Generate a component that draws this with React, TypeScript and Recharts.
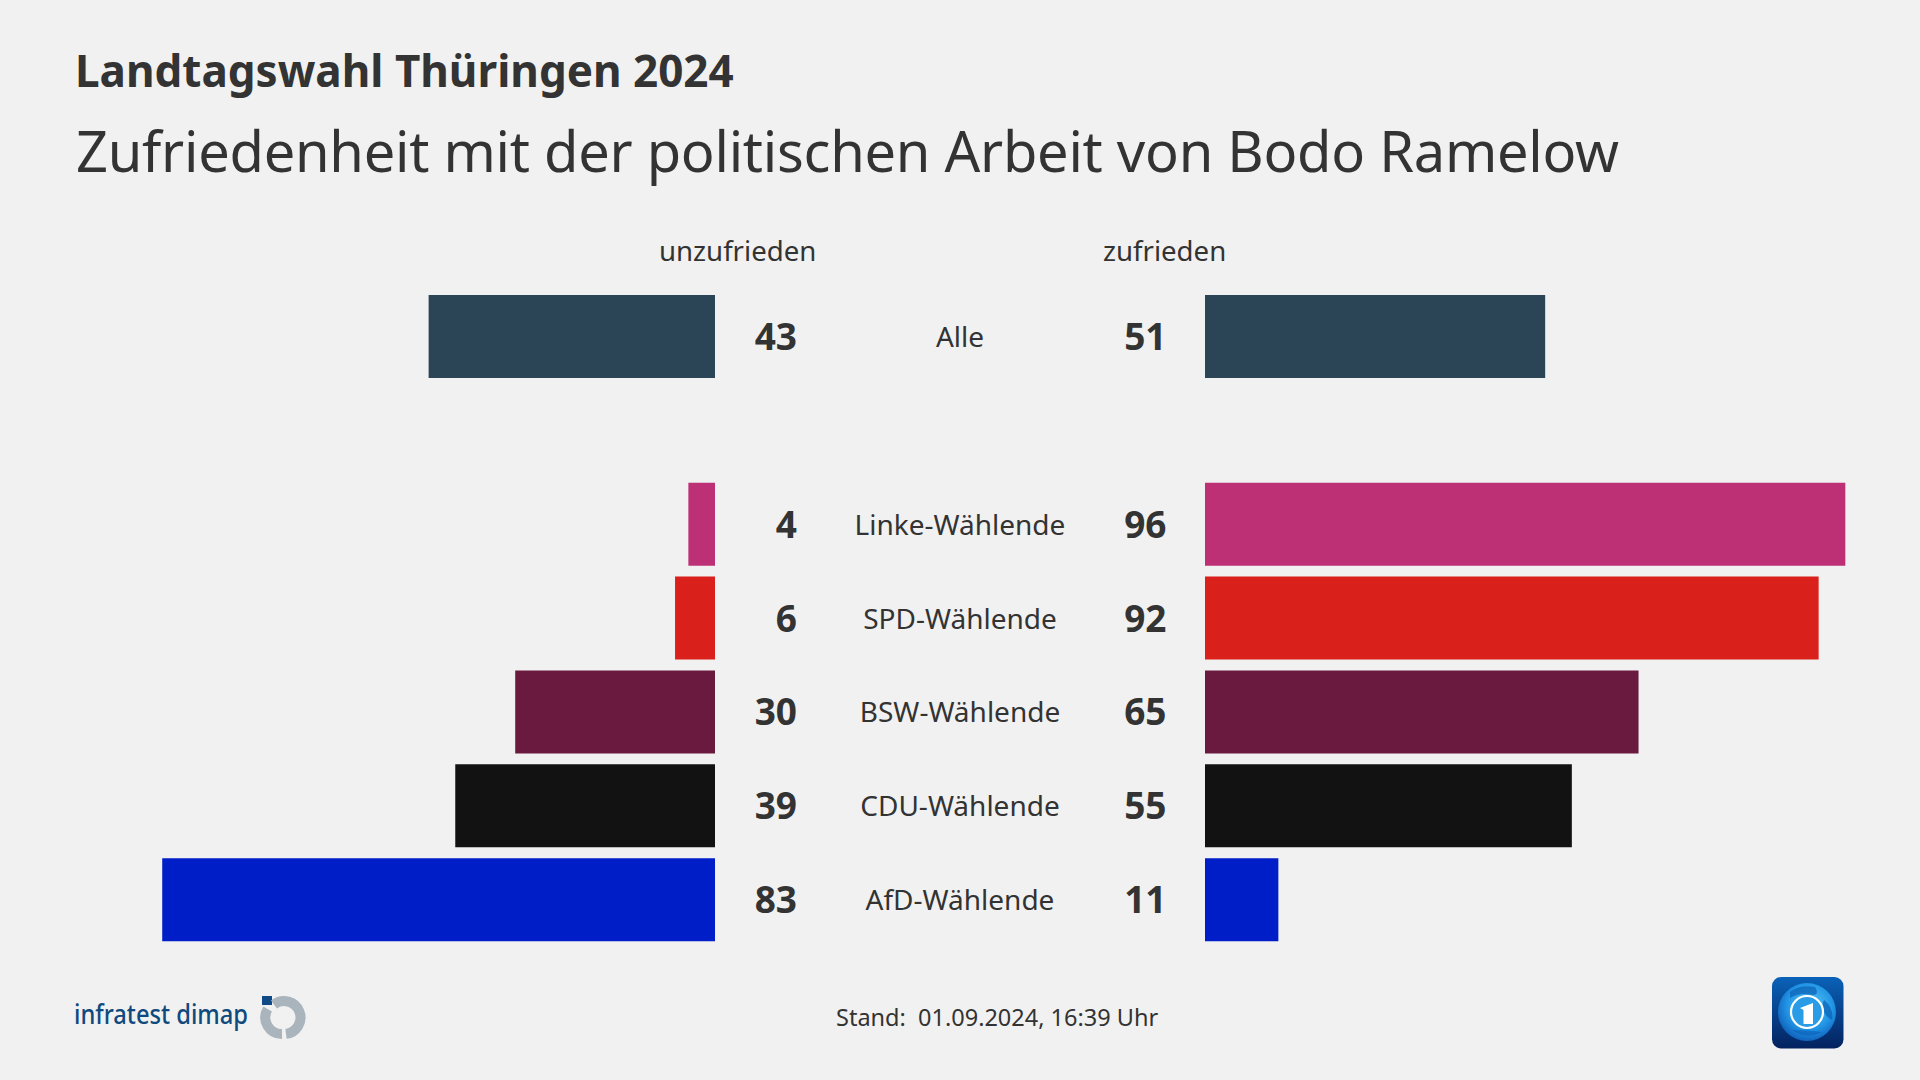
import React from "react";
import { BarChart, Bar, XAxis, YAxis, Cell, LabelList } from "recharts";

const categories = ["Alle", " ", "Linke-Wählende", "SPD-Wählende", "BSW-Wählende", "CDU-Wählende", "AfD-Wählende"];
const unzufrieden = [43, null, 4, 6, 30, 39, 83];
const zufrieden = [51, null, 96, 92, 65, 55, 11];
const colors = ["#2b4557", "#f1f1f1", "#bd3075", "#d9201b", "#6a1a3f", "#121212", "#001ec8"];

const rows = categories.map((name, i) => ({ name, unzufrieden: unzufrieden[i], zufrieden: zufrieden[i] }));

const FONT = '"Noto Sans", sans-serif';
const INK = "#333333";
const CHART_H = 657;

const ValueLabel = (side: "left" | "right") => (props: any) => {
  const { x, y, width, height, value } = props;
  if (value === null || value === undefined) return null;
  const lx = side === "left" ? Math.max(x, x + width) + 82 : Math.min(x, x + width) - 38.5;
  return (
    <text x={lx} y={y + height / 2 - 1} textAnchor="end" dominantBaseline="central"
      fontFamily={FONT} fontWeight={700} fontSize={37} fill={INK}>{value}</text>
  );
};

const CategoryTick = (props: any) => {
  const { y, payload } = props;
  return (
    <text x={245} y={y - 1} textAnchor="middle" dominantBaseline="central"
      fontFamily={FONT} fontSize={28} fill={INK}>{payload.value}</text>
  );
};

const abs = (l: number, t: number, extra: any = {}): React.CSSProperties => ({
  position: "absolute", left: l, top: t, whiteSpace: "nowrap", fontFamily: FONT, color: INK, ...extra,
});

export default function App() {
  return (
    <div style={{ position: "absolute", left: 0, top: 0, width: 1920, height: 1080, background: "#f1f1f1", overflow: "hidden" }}>
      <div style={abs(75, 40, { fontSize: 44, fontWeight: 700, lineHeight: "60px", letterSpacing: 0 })}>Landtagswahl Thüringen 2024</div>
      <div style={abs(76, 112, { fontSize: 56, lineHeight: "76px", letterSpacing: -0.26 })}>Zufriedenheit mit der politischen Arbeit von Bodo Ramelow</div>
      <div style={abs(659, 231, { fontSize: 27.6, lineHeight: "38px" })}>unzufrieden</div>
      <div style={abs(1103, 231, { fontSize: 27.6, lineHeight: "38px" })}>zufrieden</div>

      <div style={{ position: "absolute", left: 49, top: 290 }}>
        <BarChart width={766} height={CHART_H} data={rows} layout="vertical" margin={{ top: 0, right: 100, bottom: 0, left: 0 }} barCategoryGap={0}>
          <XAxis type="number" domain={[0, 100]} reversed hide />
          <YAxis type="category" dataKey="name" hide />
          <Bar dataKey="unzufrieden" barSize={83} isAnimationActive={false}>
            {rows.map((r, i) => <Cell key={r.name} fill={colors[i]} />)}
            <LabelList dataKey="unzufrieden" content={ValueLabel("left")} />
          </Bar>
        </BarChart>
      </div>

      <div style={{ position: "absolute", left: 715, top: 290 }}>
        <BarChart width={1157} height={CHART_H} data={rows} layout="vertical" margin={{ top: 0, right: 0, bottom: 0, left: 0 }} barCategoryGap={0}>
          <XAxis type="number" domain={[0, 100]} hide />
          <YAxis type="category" dataKey="name" width={490} axisLine={false} tickLine={false} tick={<CategoryTick />} interval={0} />
          <Bar dataKey="zufrieden" barSize={83} isAnimationActive={false}>
            {rows.map((r, i) => <Cell key={r.name} fill={colors[i]} />)}
            <LabelList dataKey="zufrieden" content={ValueLabel("right")} />
          </Bar>
        </BarChart>
      </div>

      <div style={abs(836, 1000, { fontSize: 23.5, lineHeight: "34px" })}>Stand:&nbsp; 01.09.2024, 16:39 Uhr</div>

      <svg style={{ position: "absolute", left: 0, top: 0 }} width={1920} height={1080}>
        <defs>
          <linearGradient id="tile" x1="0" y1="0" x2="0" y2="1">
            <stop offset="0" stopColor="#0a62b8" />
            <stop offset="1" stopColor="#04225f" />
          </linearGradient>
          <radialGradient id="globe" cx="0.55" cy="0.4" r="0.65">
            <stop offset="0" stopColor="#5cc8f5" />
            <stop offset="0.6" stopColor="#2296e6" />
            <stop offset="1" stopColor="#0c58b4" />
          </radialGradient>
        </defs>
        <text x={74} y={1024} fontFamily={FONT} fontWeight={500} fontSize={27} fill="#0f4a7e"
          textLength={174} lengthAdjust="spacingAndGlyphs">infratest dimap</text>
        <rect x={262} y={996} width={10} height={9} fill="#0f4a86" />
        <path d="M274 1004.4 A16.5 16.5 0 1 1 286 1033.9" fill="none" stroke="#a9b4bd" strokeWidth={10} />
        <path d="M267.6 1009 A16.5 16.5 0 0 0 282 1033.9" fill="none" stroke="#a9b4bd" strokeWidth={10} />

        <rect x={1772} y={977} width={71.5} height={71.5} rx={9} fill="url(#tile)" />
        <circle cx={1807} cy={1012} r={29} fill="url(#globe)" />
        <path d="M1790 992 Q1800 984 1815 987 Q1820 995 1812 995 Q1800 992 1790 998 Z" fill="#0a5fb5" opacity={0.7} />
        <path d="M1824 1000 Q1834 1008 1832 1020 Q1824 1016 1822 1006 Z" fill="#0a5fb5" opacity={0.7} />
        <path d="M1792 1030 Q1806 1040 1822 1032 Q1810 1030 1792 1030 Z" fill="#0a5fb5" opacity={0.6} />
        <circle cx={1807} cy={1012} r={16} fill="#2a9be6" stroke="#ffffff" strokeWidth={2.2} />
        <path d="M1800 1008 L1813 1003 L1813 1024 L1803.5 1024 L1803.5 1010 Z" fill="#ffffff" />
      </svg>
    </div>
  );
}
